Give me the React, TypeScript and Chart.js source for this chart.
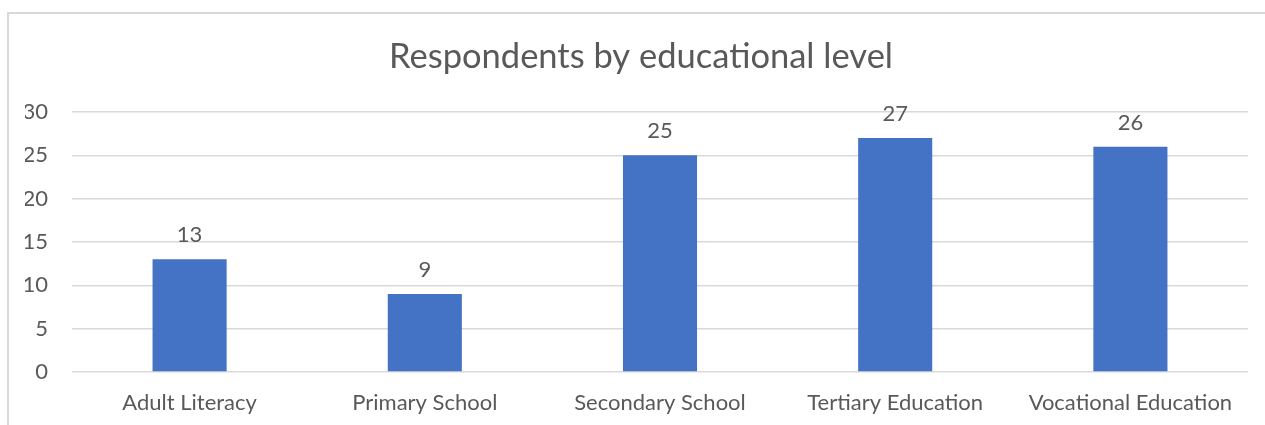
import React, { useEffect, useRef } from "react";
import { Chart, registerables } from "chart.js";

Chart.register(...registerables);

const categories = ["Adult Literacy", "Primary School", "Secondary School", "Tertiary Education", "Vocational Education"];
const respondents = [13, 9, 25, 27, 26];
const titleText = "Respondents by educational level";

const FONT = "Lato, 'Open Sans', sans-serif";
const TEXT = "#595959";

const dataLabelPlugin = {
  id: "dataLabels",
  afterDatasetsDraw(chart: any) {
    const ctx = chart.ctx;
    const meta = chart.getDatasetMeta(0);
    ctx.save();
    ctx.fillStyle = TEXT;
    ctx.font = `22px ${FONT}`;
    ctx.textAlign = "center";
    ctx.textBaseline = "middle";
    meta.data.forEach((bar: any, i: number) => {
      ctx.fillText(String(chart.data.datasets[0].data[i]), bar.x, bar.y - 24);
    });
    ctx.restore();
  },
};

const titlePlugin = {
  id: "centeredTitle",
  afterDraw(chart: any) {
    const ctx = chart.ctx;
    ctx.save();
    ctx.fillStyle = TEXT;
    ctx.font = `34.5px ${FONT}`;
    ctx.textAlign = "center";
    ctx.textBaseline = "middle";
    ctx.fillText(titleText, 641, 57);
    ctx.restore();
  },
};

export default function App() {
  const ref = useRef<HTMLCanvasElement>(null);
  useEffect(() => {
    if (!ref.current) return;
    const chart = new Chart(ref.current, {
      type: "bar",
      data: {
        labels: categories,
        datasets: [
          {
            data: respondents,
            backgroundColor: "#4472C4",
            barPercentage: 0.315,
            categoryPercentage: 1,
          },
        ],
      },
      options: {
        animation: false,
        responsive: false,
        maintainAspectRatio: false,
        layout: { padding: { left: 25, right: 17, top: 112, bottom: 0 } },
        plugins: {
          legend: { display: false },
          tooltip: { enabled: false },
          title: { display: false },
        },
        scales: {
          x: {
            grid: { display: false, drawTicks: false },
            border: { display: false },
            ticks: { color: TEXT, font: { family: FONT, size: 22 }, padding: 18, maxRotation: 0 },
            afterFit(scale: any) {
              scale.height = 53;
            },
          },
          y: {
            min: 0,
            max: 30,
            grid: { color: "#d9d9d9", lineWidth: 1.5, drawTicks: false },
            border: { display: false },
            ticks: { stepSize: 5, color: TEXT, font: { family: FONT, size: 22 }, padding: 24 },
            afterFit(scale: any) {
              scale.width = 47;
            },
          },
        },
      },
      plugins: [dataLabelPlugin, titlePlugin],
    });
    return () => chart.destroy();
  }, []);
  return (
    <div style={{ position: "fixed", left: 0, top: 0, width: 1265, height: 425, background: "#fff", overflow: "hidden" }}>
      <div
        style={{
          position: "absolute",
          left: 7,
          top: 12,
          width: 1300,
          height: 450,
          border: "2px solid #d9d9d9",
          boxSizing: "border-box",
        }}
      />
      <canvas ref={ref} width={1265} height={425} style={{ position: "absolute", left: 0, top: 0, width: 1265, height: 425 }} />
    </div>
  );
}
